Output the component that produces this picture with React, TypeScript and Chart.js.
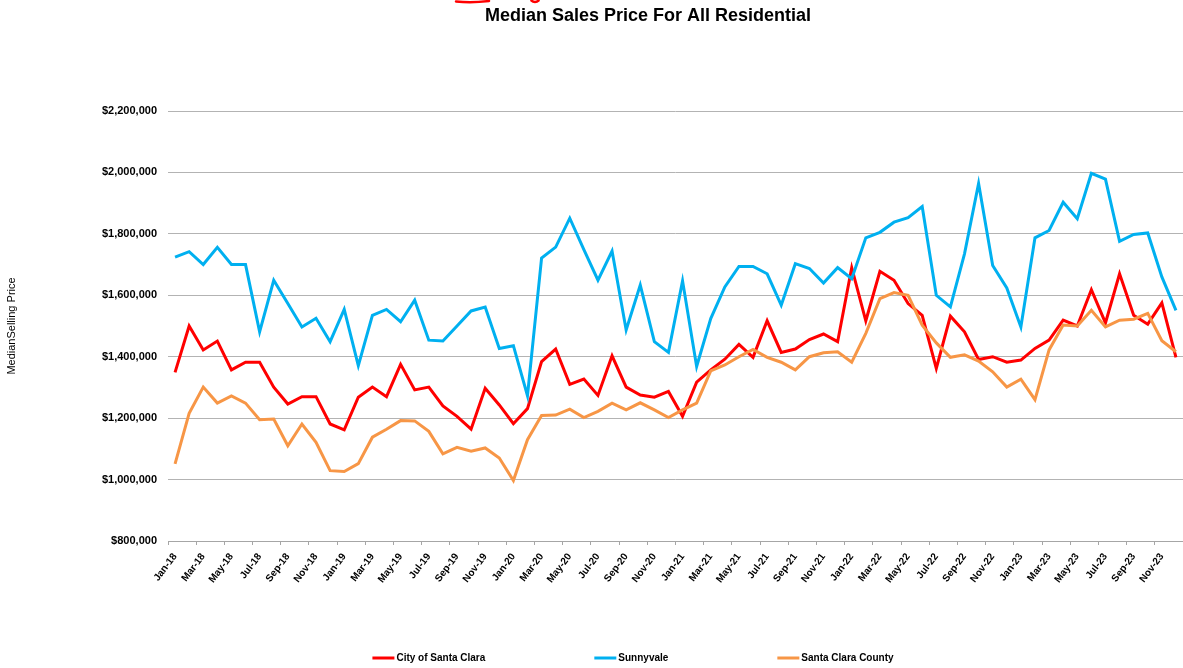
import React, { useEffect, useRef } from 'react';
import { Chart, registerables } from 'chart.js';

Chart.register(...registerables);

const monthLabels = [
  'Jan-18', 'Feb-18', 'Mar-18', 'Apr-18', 'May-18', 'Jun-18', 'Jul-18', 'Aug-18', 'Sep-18', 'Oct-18', 'Nov-18', 'Dec-18',
  'Jan-19', 'Feb-19', 'Mar-19', 'Apr-19', 'May-19', 'Jun-19', 'Jul-19', 'Aug-19', 'Sep-19', 'Oct-19', 'Nov-19', 'Dec-19',
  'Jan-20', 'Feb-20', 'Mar-20', 'Apr-20', 'May-20', 'Jun-20', 'Jul-20', 'Aug-20', 'Sep-20', 'Oct-20', 'Nov-20', 'Dec-20',
  'Jan-21', 'Feb-21', 'Mar-21', 'Apr-21', 'May-21', 'Jun-21', 'Jul-21', 'Aug-21', 'Sep-21', 'Oct-21', 'Nov-21', 'Dec-21',
  'Jan-22', 'Feb-22', 'Mar-22', 'Apr-22', 'May-22', 'Jun-22', 'Jul-22', 'Aug-22', 'Sep-22', 'Oct-22', 'Nov-22', 'Dec-22',
  'Jan-23', 'Feb-23', 'Mar-23', 'Apr-23', 'May-23', 'Jun-23', 'Jul-23', 'Aug-23', 'Sep-23', 'Oct-23', 'Nov-23', 'Dec-23',
];

const cityOfSantaClara = [
  1349000, 1500000, 1422000, 1451000, 1357000, 1382000, 1382000, 1301000, 1246000, 1270000, 1270000, 1181000,
  1162000, 1268000, 1301000, 1270000, 1375000, 1292000, 1301000, 1240000, 1206000, 1164000, 1297000, 1243000,
  1182000, 1231000, 1384000, 1425000, 1310000, 1327000, 1274000, 1403000, 1301000, 1275000, 1268000, 1287000,
  1206000, 1317000, 1357000, 1392000, 1440000, 1398000, 1517000, 1414000, 1425000, 1456000, 1474000, 1449000,
  1690000, 1517000, 1678000, 1649000, 1573000, 1535000, 1362000, 1532000, 1481000, 1391000, 1400000, 1382000,
  1389000, 1427000, 1454000, 1519000, 1500000, 1618000, 1510000, 1670000, 1535000, 1506000, 1575000, 1398000,
];

const sunnyvale = [
  1724000, 1742000, 1700000, 1756000, 1700000, 1700000, 1481000, 1649000, 1573000, 1497000, 1525000, 1449000,
  1554000, 1371000, 1535000, 1554000, 1514000, 1584000, 1454000, 1451000, 1500000, 1549000, 1562000, 1427000,
  1436000, 1273000, 1721000, 1757000, 1851000, 1749000, 1649000, 1744000, 1487000, 1633000, 1449000, 1414000,
  1647000, 1368000, 1524000, 1627000, 1694000, 1694000, 1670000, 1568000, 1703000, 1687000, 1640000, 1690000,
  1654000, 1787000, 1805000, 1838000, 1853000, 1889000, 1600000, 1562000, 1735000, 1964000, 1697000, 1624000,
  1497000, 1787000, 1811000, 1903000, 1849000, 1997000, 1978000, 1776000, 1798000, 1803000, 1660000, 1551000,
];

const santaClaraCounty = [
  1051000, 1216000, 1301000, 1249000, 1272000, 1249000, 1195000, 1197000, 1110000, 1181000, 1121000, 1029000,
  1026000, 1052000, 1138000, 1164000, 1192000, 1191000, 1157000, 1084000, 1105000, 1092000, 1103000, 1070000,
  997000, 1130000, 1209000, 1210000, 1229000, 1202000, 1222000, 1249000, 1227000, 1250000, 1227000, 1202000,
  1227000, 1249000, 1354000, 1373000, 1400000, 1424000, 1398000, 1382000, 1357000, 1400000, 1413000, 1416000,
  1382000, 1476000, 1589000, 1609000, 1600000, 1503000, 1445000, 1398000, 1406000, 1386000, 1351000, 1301000,
  1327000, 1260000, 1422000, 1503000, 1500000, 1551000, 1497000, 1519000, 1522000, 1541000, 1452000, 1416000,
];

const seriesNames = ['City of Santa Clara', 'Sunnyvale', 'Santa Clara County'];
const seriesColors = ['#ff0000', '#00b0f0', '#f79646'];
const yMin = 800000;
const yMax = 2200000;
const yStep = 200000;
const chartTitle = 'Median Sales Price For All Residential';
const yAxisTitle = 'MedianSelling Price';

const FONT = "'Liberation Sans', Arial, sans-serif";

const formatMoney = (v: number) =>
  '$' + Math.round(v).toString().replace(/\B(?=(\d{3})+(?!\d))/g, ',');

const overlayPlugin = {
  id: 'overlay',
  afterDraw(chart: any) {
    const ctx = chart.ctx as CanvasRenderingContext2D;
    ctx.save();
    // cropped red logo fragment at the very top
    ctx.strokeStyle = '#ff0000';
    ctx.lineWidth = 2.5;
    ctx.lineCap = 'round';
    ctx.beginPath();
    ctx.moveTo(456, 1.5);
    ctx.quadraticCurveTo(472, 3, 489, 1);
    ctx.stroke();
    ctx.beginPath();
    ctx.arc(535, -3, 5, 0.25 * Math.PI, 0.75 * Math.PI);
    ctx.stroke();

    // title
    ctx.fillStyle = '#000000';
    ctx.font = `bold 18px ${FONT}`;
    ctx.textAlign = 'center';
    ctx.textBaseline = 'middle';
    ctx.fillText(chartTitle, 648, 16);

    // legend
    ctx.font = `bold 10px ${FONT}`;
    const lineW = 22;
    const textGap = 2;
    const itemGap = 109;
    const items = chart.data.datasets.map((ds: any) => ({
      label: ds.label as string,
      color: ds.borderColor as string,
      w: ctx.measureText(ds.label).width,
    }));
    const total =
      items.reduce((s: number, it: any) => s + lineW + textGap + it.w, 0) + itemGap * (items.length - 1);
    let x = 633 - total / 2;
    const y = 658;
    ctx.textAlign = 'left';
    ctx.lineCap = 'butt';
    items.forEach((it: any) => {
      ctx.strokeStyle = it.color;
      ctx.lineWidth = 3;
      ctx.beginPath();
      ctx.moveTo(x, y);
      ctx.lineTo(x + lineW, y);
      ctx.stroke();
      ctx.fillStyle = '#000000';
      ctx.fillText(it.label, x + lineW + textGap, y);
      x += lineW + textGap + it.w + itemGap;
    });
    ctx.restore();
  },
};

export default function App() {
  const canvasRef = useRef<HTMLCanvasElement | null>(null);

  useEffect(() => {
    document.body.style.margin = '0';
    const canvas = canvasRef.current;
    if (!canvas) return;
    const seriesData = [cityOfSantaClara, sunnyvale, santaClaraCounty];
    const chart = new Chart(canvas, {
      type: 'line',
      data: {
        labels: monthLabels,
        datasets: seriesNames.map((name, i) => ({
          label: name,
          data: seriesData[i],
          borderColor: seriesColors[i],
          backgroundColor: seriesColors[i],
          borderWidth: 3,
          pointRadius: 0,
          tension: 0,
          fill: false,
          order: 3 - i,
        })),
      },
      options: {
        responsive: false,
        animation: false,
        events: [],
        layout: { padding: { top: 111, bottom: 67, left: 0, right: 0 } },
        plugins: {
          legend: { display: false },
          title: { display: false },
          tooltip: { enabled: false },
        },
        scales: {
          x: {
            offset: true,
            grid: {
              offset: true,
              drawOnChartArea: false,
              drawTicks: true,
              tickLength: 4,
              lineWidth: 1,
              color: (c: any) => (c.index % 2 === 0 ? '#a6a6a6' : 'rgba(0,0,0,0)'),
            },
            border: { display: true, color: '#a6a6a6', width: 1 },
            ticks: {
              autoSkip: false,
              maxRotation: 53,
              minRotation: 53,
              padding: 6,
              color: '#000000',
              font: { family: FONT, size: 10, weight: 'bold' },
              callback: (_v: any, i: number) => (i % 2 === 0 ? monthLabels[i] : ''),
            },
            afterFit: (s: any) => {
              s.height = 60;
              s.paddingRight = 0;
              s.paddingLeft = 0;
            },
          },
          y: {
            min: yMin,
            max: yMax,
            grid: { color: '#b3b3b3', lineWidth: 1, drawTicks: false },
            border: { display: false },
            ticks: {
              stepSize: yStep,
              padding: 11,
              color: '#000000',
              font: { family: FONT, size: 11, weight: 'bold' },
              callback: (v: any) => formatMoney(Number(v)),
            },
            title: {
              display: true,
              text: yAxisTitle,
              color: '#000000',
              font: { family: FONT, size: 11, weight: 'normal' },
              padding: { top: 5, bottom: 0 },
            },
            afterFit: (s: any) => {
              s.width = 168;
              s.paddingTop = 0;
              s.paddingBottom = 0;
            },
          },
        },
      } as any,
      plugins: [overlayPlugin],
    });
    return () => chart.destroy();
  }, []);

  return (
    <div style={{ width: 1183, height: 668, background: '#ffffff', overflow: 'hidden' }}>
      <canvas ref={canvasRef} width={1183} height={668} style={{ display: 'block' }} />
    </div>
  );
}
